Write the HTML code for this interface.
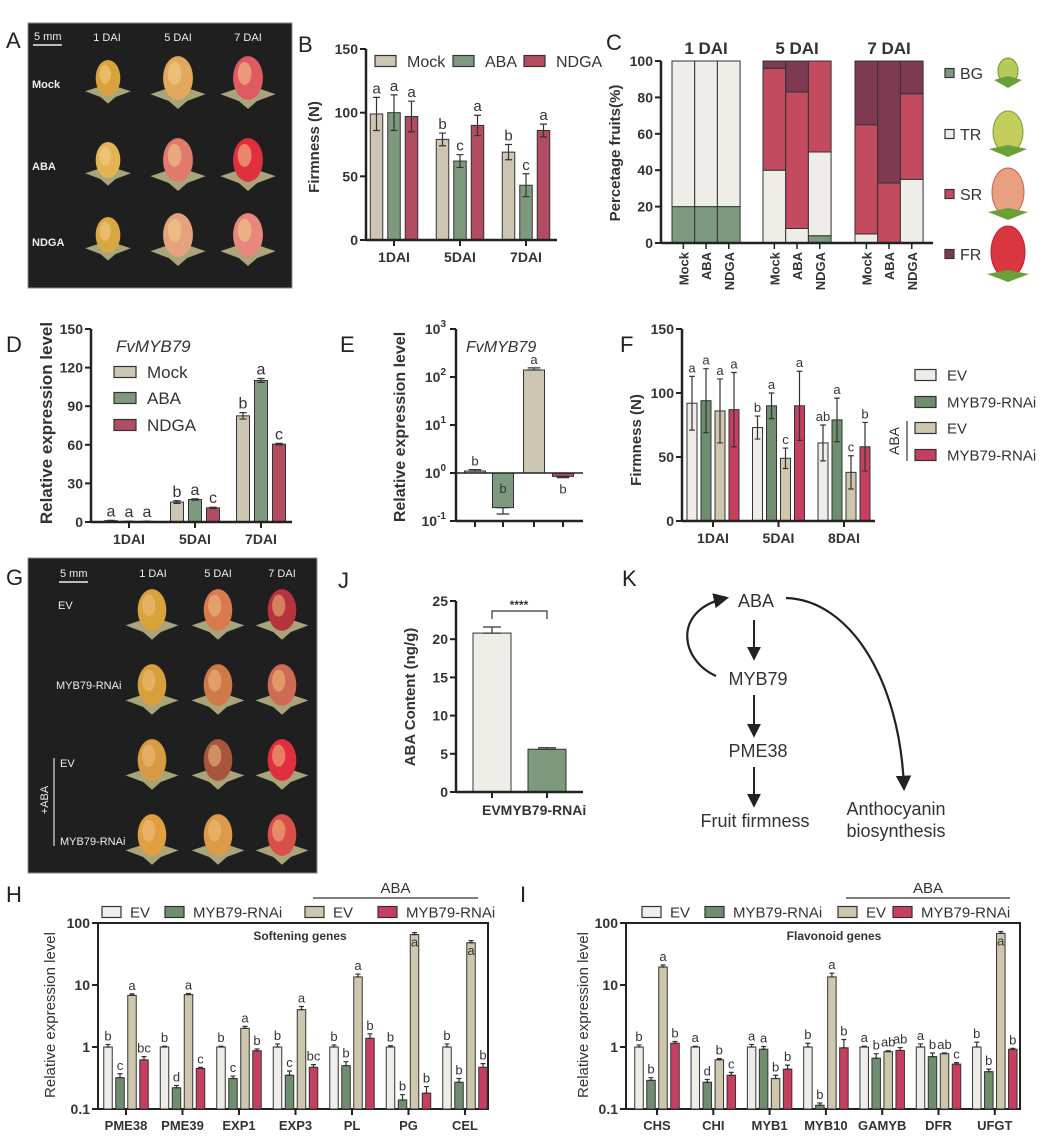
<!DOCTYPE html>
<html><head><meta charset="utf-8"><style>
html,body{margin:0;padding:0;background:#fff;}
svg{display:block;font-family:"Liberation Sans",Arial,sans-serif;}
</style></head><body>
<svg id="fig" width="1050" height="1141" viewBox="0 0 1050 1141" xmlns="http://www.w3.org/2000/svg">
<defs>
<marker id="ah" viewBox="0 0 10 10" refX="8" refY="5" markerWidth="7" markerHeight="7" orient="auto"><path d="M0,0 L10,5 L0,10 z" fill="#222"/></marker>
</defs>
<!-- panel labels -->
<g font-size="22" fill="#222">
<text x="6" y="48">A</text>
<text x="298" y="52">B</text>
<text x="606" y="50">C</text>
<text x="6" y="352">D</text>
<text x="340" y="352">E</text>
<text x="620" y="352">F</text>
<text x="6" y="585">G</text>
<text x="338" y="588">J</text>
<text x="622" y="586">K</text>
<text x="6" y="902">H</text>
<text x="520" y="902">I</text>
</g>
<g id="photoA"></g>
<g id="photoG"></g>
<g id="chartB"></g>
<g id="chartC"></g>
<g id="chartD"></g>
<g id="chartE"></g>
<g id="chartF"></g>
<g id="chartJ"></g>
<g id="chartH"></g>
<g id="chartI"></g>
<!-- K diagram -->
<g fill="#333" font-size="18">
<text x="756" y="607" text-anchor="middle">ABA</text>
<text x="758" y="685" text-anchor="middle">MYB79</text>
<text x="758" y="757" text-anchor="middle">PME38</text>
<text x="755" y="827" text-anchor="middle">Fruit firmness</text>
<text x="896" y="815" text-anchor="middle">Anthocyanin</text>
<text x="896" y="837" text-anchor="middle">biosynthesis</text>
<line x1="754" y1="620" x2="754" y2="658" stroke="#222" stroke-width="2" marker-end="url(#ah)"/>
<line x1="754" y1="695" x2="754" y2="735" stroke="#222" stroke-width="2" marker-end="url(#ah)"/>
<line x1="754" y1="767" x2="754" y2="805" stroke="#222" stroke-width="2" marker-end="url(#ah)"/>
<path d="M716,676 C680,660 672,610 726,598" fill="none" stroke="#222" stroke-width="2.2" marker-end="url(#ah)"/>
<path d="M786,598 C850,600 900,680 904,788" fill="none" stroke="#222" stroke-width="2.2" marker-end="url(#ah)"/>
</g>
</svg>
<script>
const NS='http://www.w3.org/2000/svg';
function mk(tag,attrs,parent){const e=document.createElementNS(NS,tag);for(const k in attrs)e.setAttribute(k,attrs[k]);parent.appendChild(e);return e;}

/* ---------- DATA ---------- */
// B
const bCats=['1DAI','5DAI','7DAI'];
const bSeries=['Mock','ABA','NDGA'];
const bMock=[99,79,69], bABA=[100,62,43], bNDGA=[97,90,86];
const bMockErr=[13,5,6], bABAErr=[14,5,9], bNDGAErr=[12,8,5];
const bMockLet=['a','b','b'], bABALet=['a','c','c'], bNDGALet=['a','a','a'];
const bTicks=[0,50,100,150];
// C
const cGroups=['1 DAI','5 DAI','7 DAI'];
const cBars=['Mock','ABA','NDGA'];
const cStages=['BG','TR','SR','FR'];
const cBG=[20,20,20, 0,0,4, 0,0,0];
const cTR=[80,80,80, 40,8,46, 5,0,35];
const cSR=[0,0,0, 56,75,50, 60,33,47];
const cFR=[0,0,0, 4,17,0, 35,67,18];
const cTicks=[0,20,40,60,80,100];
// D
const dCats=['1DAI','5DAI','7DAI'];
const dMock=[1,15.5,82.5], dABA=[0.5,17.5,110], dNDGA=[0.5,11,60.5];
const dMockErr=[0.3,1,2.5], dABAErr=[0.2,0.5,1.5], dNDGAErr=[0.2,0.5,0.6];
const dMockLet=['a','b','b'], dABALet=['a','a','a'], dNDGALet=['a','c','c'];
const dTicks=[0,30,60,90,120,150];
// E
const eVals=[1.1,0.19,140,0.85];
const eErr=[0.08,0.05,15,0.05];
const eLet=['b','b','a','b'];
const eTicksExp=[-1,0,1,2,3];
// F
const fCats=['1DAI','5DAI','8DAI'];
const fEV=[92,73,61], fRNAi=[94,90,79], fEVABA=[86,49,38], fRNAiABA=[87,90,58];
const fEVErr=[21,9,14], fRNAiErr=[25,10,17], fEVABAErr=[25,8,13], fRNAiABAErr=[29,27,19];
const fEVLet=['a','b','ab'], fRNAiLet=['a','a','a'], fEVABALet=['a','c','c'], fRNAiABALet=['a','a','b'];
const fTicks=[0,50,100,150];
// J
const jCats=['EV','MYB79-RNAi'];
const jVals=[20.8,5.6];
const jErr=[0.8,0.2];
const jTicks=[0,5,10,15,20,25];
// H
const hGenes=['PME38','PME39','EXP1','EXP3','PL','PG','CEL'];
const hEV=[1,1,1,1,1,1,1];
const hRNAi=[0.32,0.22,0.31,0.35,0.5,0.14,0.27];
const hEVABA=[6.8,7,2.0,4.0,13.5,65,48];
const hRNAiABA=[0.62,0.45,0.87,0.47,1.38,0.18,0.47];
const hEVErr=[0.1,0.03,0.03,0.12,0.08,0.05,0.12];
const hRNAiErr=[0.05,0.02,0.03,0.06,0.08,0.03,0.04];
const hEVABAErr=[0.4,0.3,0.15,0.5,1.5,5,4];
const hRNAiABAErr=[0.08,0.02,0.06,0.05,0.25,0.05,0.07];
const hLet=[['b','c','a','bc'],['b','d','a','c'],['b','c','a','b'],['b','c','a','bc'],['b','b','a','b'],['b','b','a','b'],['b','b','a','b']];
// I
const iGenes=['CHS','CHI','MYB1','MYB10','GAMYB','DFR','UFGT'];
const iEV=[1,1,1,1,1,1,1];
const iRNAi=[0.29,0.27,0.92,0.115,0.66,0.7,0.4];
const iEVABA=[19.5,0.62,0.31,13.5,0.84,0.78,68];
const iRNAiABA=[1.15,0.35,0.44,0.97,0.88,0.53,0.92];
const iEVErr=[0.08,0.03,0.1,0.15,0.03,0.12,0.2];
const iRNAiErr=[0.03,0.03,0.1,0.01,0.12,0.1,0.04];
const iEVABAErr=[1.5,0.03,0.04,2,0.03,0.02,5];
const iRNAiABAErr=[0.08,0.04,0.07,0.35,0.1,0.03,0.03];
const iLet=[['b','b','a','b'],['a','d','b','c'],['a','a','b','b'],['b','b','a','b'],['a','b','ab','ab'],['a','b','ab','c'],['b','b','a','b']];
const hTicks=[0.1,1,10,100];

/* ---------- colors ---------- */
const C_MOCK='#cdc6b2',C_ABA='#7d9a7f',C_NDGA='#b24d61';
const C_EV='#eeede8',C_RNAI='#6e8e6f',C_EVA='#cfc6ae',C_RNAIA='#c63f5f';
const TXT='#333';

/* ---------- helpers ---------- */
function linY(v,max,yt,yb){return yb-(v/max)*(yb-yt);}
function logY(v,lmin,lmax,yt,yb){return yb-(Math.log10(v)-lmin)/(lmax-lmin)*(yb-yt);}
function txt(p,x,y,s,opt){const t=mk('text',Object.assign({x:x,y:y,fill:TXT,'font-size':13},opt||{}),p);t.textContent=s;return t;}
function yAxis(p,x,yt,yb){const l=mk('line',{x1:x,y1:yt,x2:x,y2:yb,stroke:'#222','stroke-width':2.5},p);}
function xAxis(p,x0,x1,y){const l=mk('line',{x1:x0,y1:y,x2:x1,y2:y,stroke:'#222','stroke-width':2.5},p);}
function yTick(p,x,y,label){const l=mk('line',{x1:x-6,y1:y,x2:x,y2:y,stroke:'#222','stroke-width':2},p);
 const t=txt(p,x-8,y+5,label,{'text-anchor':'end','font-weight':'bold','font-size':14});}
function bar(p,x,w,y0,y1,fill){const r=mk('rect',{x:x,y:Math.min(y0,y1),width:w,height:Math.abs(y1-y0),fill:fill,stroke:'#333','stroke-width':1},p);return r;}
function err(p,cx,ya,yb,hw){const g=mk('path',{d:`M${cx},${ya}V${yb}M${cx-hw},${ya}H${cx+hw}M${cx-hw},${yb}H${cx+hw}`,stroke:'#333','stroke-width':1.2,fill:'none'},p);}
function letter(p,x,y,s,fs){const t=txt(p,x,y,s,{'text-anchor':'middle','font-size':fs||13});}
function ylab(p,x,y,s,fs,bold){const t=txt(p,x,y,s,{'text-anchor':'middle','font-size':fs||15,'font-weight':bold===false?'normal':'bold',transform:`rotate(-90 ${x} ${y})`});}
function legBox(p,x,y,w,h,fill,label,fs,gap){const r=mk('rect',{x:x,y:y-h/2,width:w,height:h,fill:fill,stroke:'#333','stroke-width':1.2},p);
 const t=txt(p,x+w+(gap||10),y+fs*0.36,label,{'font-size':fs});}

/* ---------- linear grouped chart ---------- */
function groupedLinear(p,cfg){
 const Y=v=>linY(v,cfg.max,cfg.yt,cfg.yb);
 yAxis(p,cfg.x0,cfg.yt,cfg.yb);
 cfg.ticks.forEach(t=>yTick(p,cfg.x0,Y(t),String(t)));
 cfg.cats.forEach((c,i)=>{
  const cx=cfg.c0+cfg.sp*i;
  cfg.series.forEach((s,j)=>{
   const bx=cx+cfg.offs[j]-cfg.bw/2;
   const r=bar(p,bx,cfg.bw,Y(0),Y(s.v[i]),s.color);
   
   
   const e=s.e[i];err(p,bx+cfg.bw/2,Y(s.v[i]+e),Y(Math.max(0,s.v[i]-e)),cfg.bw*0.28);
   if(s.l)letter(p,bx+cfg.bw/2,Y(s.v[i]+e)-4,s.l[i],cfg.lfs);
  });
  const tk=mk('line',{x1:cx,y1:cfg.yb,x2:cx,y2:cfg.yb+6,stroke:'#222','stroke-width':2},p);
  
  const t=txt(p,cx,cfg.yb+22,c,{'text-anchor':'middle','font-weight':'bold','font-size':14});
  
 });
 xAxis(p,cfg.x0,cfg.x1,cfg.yb);
}

/* B */
(function(){const p=document.getElementById('chartB');
 groupedLinear(p,{x0:366,x1:557,yt:49,yb:240,max:150,ticks:bTicks,cats:bCats,c0:394,sp:66,bw:12.5,offs:[-17.5,0,17.5],lfs:15,
  series:[{name:'Mock',v:bMock,e:bMockErr,l:bMockLet,color:C_MOCK},{name:'ABA',v:bABA,e:bABAErr,l:bABALet,color:C_ABA},{name:'NDGA',v:bNDGA,e:bNDGAErr,l:bNDGALet,color:C_NDGA}]});
 ylab(p,319,147,'Firmness (N)',15);
 legBox(p,375,61,21,11,C_MOCK,bSeries[0],16,11);
 legBox(p,453,61,21,11,C_ABA,bSeries[1],16,11);
 legBox(p,524,61,21,11,C_NDGA,bSeries[2],16,11);
})();

/* C */
(function(){const p=document.getElementById('chartC');
 const Y=v=>linY(v,100,61,243);
 yAxis(p,661,61,243);
 cTicks.forEach(t=>yTick(p,661,Y(t),String(t)));
 const starts=[672,763,855],bw=22.7;
 const cols=[C_ABA,'#efede8','#c24b5f','#7e3a51'];
 const stacks=[cBG,cTR,cSR,cFR];
 cGroups.forEach((g,gi)=>{
  const t=txt(p,starts[gi]+bw*1.5,54,g,{'text-anchor':'middle','font-weight':'bold','font-size':17});
  
  cBars.forEach((b,bi)=>{
   const k=gi*3+bi;const x=starts[gi]+bi*bw;let acc=0;
   stacks.forEach((arr,si)=>{
    const v=arr[k];if(v<=0)return;
    const r=bar(p,x,bw,Y(acc),Y(acc+v),cols[si]);
    
    
    acc+=v;
   });
   const cx=x+bw/2;
   const tk=mk('line',{x1:cx,y1:243,x2:cx,y2:249,stroke:'#222','stroke-width':1.5},p);
   
   const lt=txt(p,cx+5,252,b,{'text-anchor':'end','font-weight':'bold','font-size':13,transform:`rotate(-90 ${cx+5} 252)`});
   
  });
 });
 xAxis(p,661,933,243);
 ylab(p,620,153,'Percetage fruits(%)',15);
 const ly=[73,134,194,254];
 cStages.forEach((s,i)=>legBox(p,945,ly[i],9,9,cols[i],s,16,6));
 // fruit icons
 const fc=[['#b7c957','#6e9a35',10,13],['#c4cc5a','#7a9c3a',15,21],['#e7a080','#c7613f',16,24],['#d9363f','#b5222e',17,26]];
 ly.forEach((y,i)=>{const g=mk('g',{},p);
  const [f,s,rx,ry]=fc[i];
  mk('ellipse',{cx:1008,cy:y-2,rx:rx,ry:ry,fill:f,stroke:s,'stroke-width':1},g);
  mk('path',{d:`M${1008-rx-4},${y+ry-6} L1008,${y+ry-10} L${1008+rx+4},${y+ry-6} L1008,${y+ry+2}z`,fill:'#6aa03a'},g);
 });
})();

/* D */
(function(){const p=document.getElementById('chartD');
 groupedLinear(p,{x0:91,x1:292,yt:329,yb:522,max:150,ticks:dTicks,cats:dCats,c0:129,sp:66,bw:13,offs:[-18,0,18],lfs:16,
  series:[{name:'Mock',v:dMock,e:dMockErr,l:dMockLet,color:C_MOCK},{name:'ABA',v:dABA,e:dABAErr,l:dABALet,color:C_ABA},{name:'NDGA',v:dNDGA,e:dNDGAErr,l:dNDGALet,color:C_NDGA}]});
 ylab(p,52,423,'Relative expression level',17);
 const t=txt(p,116,352,'FvMYB79',{'font-style':'italic','font-size':17});
 legBox(p,114,372,22,11,C_MOCK,'Mock',17,11);
 legBox(p,114,398,22,11,C_ABA,'ABA',17,11);
 legBox(p,114,425,22,11,C_NDGA,'NDGA',17,11);
})();

/* E */
(function(){const p=document.getElementById('chartE');
 const Y=v=>logY(v,-1,3,329,521);
 yAxis(p,456,329,521);
 eTicksExp.forEach(k=>{const y=Y(Math.pow(10,k));
  const l=mk('line',{x1:450,y1:y,x2:456,y2:y,stroke:'#222','stroke-width':2},p);
  const t=mk('text',{x:446,y:y+5,'text-anchor':'end','font-weight':'bold','font-size':14,fill:TXT},p);
  
  t.textContent='10';const sp=mk('tspan',{dy:-7,'font-size':10},t);sp.textContent=String(k);
 });
 const centers=[475,503,534,563],cols=[C_MOCK,C_ABA,C_MOCK,C_NDGA],bw=21,y1=Y(1);
 eVals.forEach((v,i)=>{
  const r=bar(p,centers[i]-bw/2,bw,y1,Y(v),cols[i]);
  
  const e=eErr[i];
  if(v>=1){err(p,centers[i],Y(v+e),Y(v),bw*0.3);letter(p,centers[i],Y(v+e)-4,eLet[i],13);}
  else{err(p,centers[i],Y(v),Y(v-e),bw*0.3);
   if(v<0.5)letter(p,centers[i],y1+20,eLet[i],13);else letter(p,centers[i],Y(v-e)+16,eLet[i],13);}
  const tk=mk('line',{x1:centers[i],y1:521,x2:centers[i],y2:527,stroke:'#222','stroke-width':2},p);
  
 });
 const bl=mk('line',{x1:456,y1:y1,x2:583,y2:y1,stroke:'#222','stroke-width':1.5},p);
 xAxis(p,456,583,521);
 ylab(p,405,427,'Relative expression level',16);
 const t=txt(p,466,352,'FvMYB79',{'font-style':'italic','font-size':16});
})();

/* F */
(function(){const p=document.getElementById('chartF');
 groupedLinear(p,{x0:682,x1:875,yt:329,yb:521,max:150,ticks:fTicks,cats:fCats,c0:713,sp:65.5,bw:10,offs:[-21,-7,7,21],lfs:13,
  series:[{name:'EV',v:fEV,e:fEVErr,l:fEVLet,color:C_EV},{name:'RNAi',v:fRNAi,e:fRNAiErr,l:fRNAiLet,color:C_RNAI},{name:'EV-ABA',v:fEVABA,e:fEVABAErr,l:fEVABALet,color:C_EVA},{name:'RNAi-ABA',v:fRNAiABA,e:fRNAiABAErr,l:fRNAiABALet,color:C_RNAIA}]});
 ylab(p,641,440,'Firmness (N)',15);
 legBox(p,915,375,21,11,C_EV,'EV',15,11);
 legBox(p,915,402,21,11,C_RNAI,'MYB79-RNAi',15,11);
 legBox(p,915,428,21,11,C_EVA,'EV',15,11);
 legBox(p,915,455,21,11,C_RNAIA,'MYB79-RNAi',15,11);
 const l=mk('line',{x1:907,y1:421,x2:907,y2:461,stroke:'#333','stroke-width':1.2},p);
 const t=txt(p,899,441,'ABA',{'text-anchor':'middle','font-size':14,transform:'rotate(-90 899 441)'});
})();

/* J */
(function(){const p=document.getElementById('chartJ');
 const Y=v=>linY(v,25,601,792);
 yAxis(p,456,601,792);
 jTicks.forEach(t=>yTick(p,456,Y(t),String(t)));
 const centers=[492,547],cols=[C_EV,C_ABA],bw=38;
 jVals.forEach((v,i)=>{const r=bar(p,centers[i]-bw/2,bw,Y(0),Y(v),cols[i]);
  
  err(p,centers[i],Y(v+jErr[i]),Y(v),9);
  const tk=mk('line',{x1:centers[i],y1:792,x2:centers[i],y2:798,stroke:'#222','stroke-width':2},p);
 });
 xAxis(p,456,583,792);
 const t=txt(p,482,815,jCats[0]+jCats[1],{'font-weight':'bold','font-size':14});
 const br=mk('path',{d:'M492,619V611H547V619',fill:'none',stroke:'#333','stroke-width':1.2},p);
 const s=txt(p,519,609,'****',{'text-anchor':'middle','font-size':12,'font-weight':'bold'});
 ylab(p,415,697,'ABA Content (ng/g)',15);
})();

/* H & I */
function logGroup(p,cfg){
 const Y=v=>logY(v,-1,2,923,1109);
 const box=mk('rect',{x:cfg.x0,y:923,width:cfg.x1-cfg.x0,height:186,fill:'none',stroke:'#222','stroke-width':2},p);
 
 hTicks.forEach(t=>yTick(p,cfg.x0,Y(t),String(t)));
 const series=[[cfg.ev,cfg.evE,C_EV],[cfg.rn,cfg.rnE,C_RNAI],[cfg.eva,cfg.evaE,C_EVA],[cfg.rna,cfg.rnaE,C_RNAIA]];
 const offs=[-18,-6,6,18],bw=8.5;
 cfg.genes.forEach((g,i)=>{
  const cx=cfg.c0+cfg.sp*i;
  series.forEach((s,j)=>{
   const bx=cx+offs[j]-bw/2,v=s[0][i],e=s[1][i];
   const r=bar(p,bx,bw,1109,Y(v),s[2]);
   
   err(p,cx+offs[j],Y(v+e),Y(v),2.5);
   if(v>30) letter(p,cx+offs[j],Y(v)+12,cfg.let[i][j],13);
   else letter(p,cx+offs[j],Y(v+e)-4,cfg.let[i][j],13);
  });
  const tk=mk('line',{x1:cx,y1:1109,x2:cx,y2:1115,stroke:'#222','stroke-width':2},p);
  const t=txt(p,cx,1130,g,{'text-anchor':'middle','font-weight':'bold','font-size':13});
 });
 const tt=txt(p,cfg.titleX,940,cfg.title,{'text-anchor':'middle','font-weight':'bold','font-size':12});
 ylab(p,cfg.ylx,1015,'Relative expression level',15,false);
 legBox(p,cfg.lg[0],912,19,11,C_EV,'EV',15,9);
 legBox(p,cfg.lg[1],912,19,11,C_RNAI,'MYB79-RNAi',15,9);
 legBox(p,cfg.lg[2],912,19,11,C_EVA,'EV',15,9);
 legBox(p,cfg.lg[3],912,19,11,C_RNAIA,'MYB79-RNAi',15,9);
 const al=mk('line',{x1:cfg.aba[0],y1:898,x2:cfg.aba[1],y2:898,stroke:'#333','stroke-width':1.2},p);
 const at=txt(p,(cfg.aba[0]+cfg.aba[1])/2,893,'ABA',{'text-anchor':'middle','font-size':15});
}
logGroup(document.getElementById('chartH'),{x0:98,x1:488,genes:hGenes,c0:126,sp:56.5,ev:hEV,evE:hEVErr,rn:hRNAi,rnE:hRNAiErr,eva:hEVABA,evaE:hEVABAErr,rna:hRNAiABA,rnaE:hRNAiABAErr,let:hLet,title:'Softening genes',titleX:300,ylx:55,lg:[102,165,305,378],aba:[313,478]});
logGroup(document.getElementById('chartI'),{x0:626,x1:1020,genes:iGenes,c0:657,sp:56.3,ev:iEV,evE:iEVErr,rn:iRNAi,rnE:iRNAiErr,eva:iEVABA,evaE:iEVABAErr,rna:iRNAiABA,rnaE:iRNAiABAErr,let:iLet,title:'Flavonoid genes',titleX:834,ylx:588,lg:[642,705,838,893],aba:[846,1010]});

/* photos */
function fruit(p,cx,cy,s,body,spot){
 const g=mk('g',{},p);
 
 
 mk('path',{d:`M${cx-24*s},${cy+14*s} L${cx},${cy+6*s} L${cx+24*s},${cy+14*s} L${cx+8*s},${cy+20*s} L${cx},${cy+27*s} L${cx-8*s},${cy+20*s}z`,fill:'#a9a479'},g);
 mk('ellipse',{cx:cx,cy:cy,rx:13*s,ry:19*s,fill:body},g);
 mk('ellipse',{cx:cx-3*s,cy:cy-4*s,rx:6*s,ry:10*s,fill:spot,opacity:0.55},g);
}
(function(){const p=document.getElementById('photoA');
 const r=mk('rect',{x:28,y:23,width:264,height:265,fill:'#1f1f1f',stroke:'#888','stroke-width':1},p);
 const W={fill:'#eee','font-size':11};
 [['1 DAI',107],['5 DAI',178],['7 DAI',248]].forEach(a=>{const t=txt(p,a[1],41,a[0],Object.assign({'text-anchor':'middle'},W));});
 [['Mock',88],['ABA',170],['NDGA',246]].forEach(a=>{const t=txt(p,32,a[1],a[0],Object.assign({'font-weight':'bold'},W));});
 const sb=txt(p,34,40,'5 mm',W);
 mk('line',{x1:33,y1:45,x2:62,y2:45,stroke:'#eee','stroke-width':1.5},p);
 const rows=[78,160,235],cols=[108,178,248];
 const colr=[['#d9a33c','#e2b454','#d9a742'],['#e2a85e','#e07a6c','#e4a37c'],['#e05a62','#e0303f','#e8877d']];
 rows.forEach((y,ri)=>cols.forEach((x,ci)=>fruit(p,x,y,ci===0?0.95:1.15,colr[ci][ri],'#f3d08a')));
})();
(function(){const p=document.getElementById('photoG');
 const r=mk('rect',{x:28,y:558,width:289,height:315,fill:'#1f1f1f',stroke:'#888','stroke-width':1},p);
 const W={fill:'#eee','font-size':11};
 [['1 DAI',153],['5 DAI',218],['7 DAI',282]].forEach(a=>{const t=txt(p,a[1],577,a[0],Object.assign({'text-anchor':'middle'},W));});
 [['EV',58,609],['MYB79-RNAi',56,689],['EV',60,767],['MYB79-RNAi',60,845]].forEach(a=>{const t=txt(p,a[1],a[2],a[0],W);});
 const sb=txt(p,60,577,'5 mm',W);
 mk('line',{x1:59,y1:582,x2:88,y2:582,stroke:'#eee','stroke-width':1.5},p);
 mk('line',{x1:54,y1:758,x2:54,y2:846,stroke:'#ddd','stroke-width':1.2},p);
 const ab=txt(p,48,800,'+ABA',Object.assign({'text-anchor':'middle',transform:'rotate(-90 48 800)'},W));
 const rows=[610,685,760,835],cols=[152,218,282];
 const colr=[['#d9a33c','#d8a03c','#d99a44','#e0a040'],['#d77a4e','#cf7848','#a8553f','#dd9a48'],['#b8343d','#cf6a55','#e0303f','#d9504a']];
 rows.forEach((y,ri)=>cols.forEach((x,ci)=>fruit(p,x,y,1.1,colr[ci][ri],'#f0c080')));
})();
</script>
</body></html>
